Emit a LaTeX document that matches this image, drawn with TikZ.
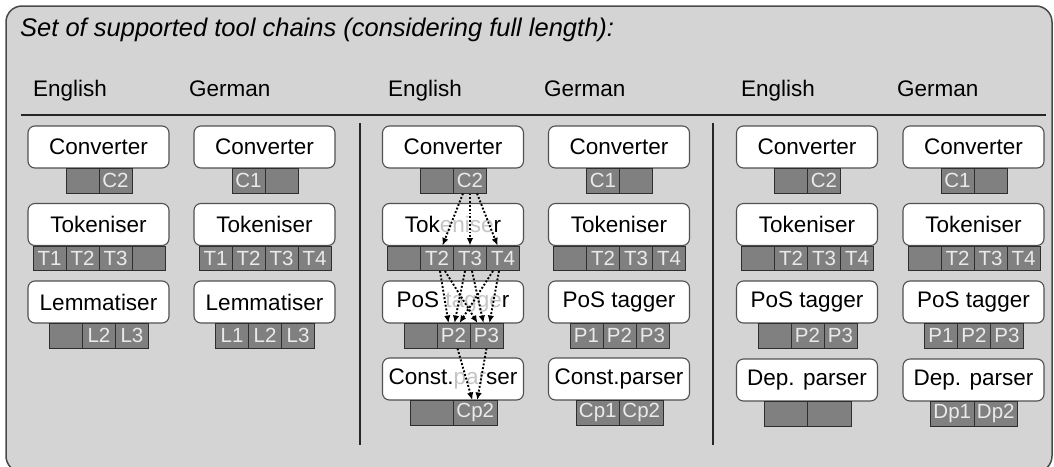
\documentclass[tikz,border=0pt]{standalone}
\usepackage{fontspec}
\setmainfont{Liberation Sans}
\usetikzlibrary{arrows.meta}
\definecolor{bgcol}{HTML}{D4D4D4}
\definecolor{framecol}{HTML}{4A4A4A}
\definecolor{cellfill}{HTML}{808080}
\definecolor{cellline}{HTML}{2E2E2E}
\definecolor{celltext}{HTML}{EAEAEA}
\definecolor{boxline}{HTML}{505050}
\definecolor{ghost}{HTML}{C4C4C4}
\newcommand\cellrow[5]{%
  \foreach \lab [count=\i] in {#5}{%
    \node[cell, minimum width=#4pt] (#1-\i) at ({#2+(\i-1)*#4}, #3) {\lab};}}
\begin{document}
\begin{tikzpicture}[x=1pt,y=-1pt,
  frame/.style={draw=framecol, line width=1.5pt, fill=bgcol, rounded corners=16pt},
  tool/.style={draw=boxline, line width=1.1pt, fill=white, rounded corners=7pt, minimum width=141pt, minimum height=42pt, inner sep=0pt, font=\fontsize{22.5}{27}\selectfont, text=black},
  cell/.style={draw=cellline, line width=1pt, fill=cellfill, minimum height=24.5pt, inner sep=0pt, anchor=north west, text=celltext, font=\fontsize{20.5}{24}\selectfont},
  lang/.style={anchor=base west, font=\fontsize{22.5}{27}\selectfont, inner sep=0pt},
  title/.style={anchor=base west, font=\fontsize{25.5}{30}\selectfont\itshape, inner sep=0pt},
  rule/.style={draw=black!85, line width=1.5pt},
  flow/.style={line width=1.9pt, dash pattern=on 1.9pt off 1.9pt, -{Latex[length=7.5pt,width=6.5pt]}, black}
]
\useasboundingbox (0,0) rectangle (1054,466);
\path[frame] (6,6) rectangle (1052,472);
\node[title] (ttl) at (20,36) {Set of supported tool chains (considering full length):};
\node[lang] (h1) at (33,96) {English};
\node[lang] (h2) at (189,96) {German};
\node[lang] (h3) at (388,96) {English};
\node[lang] (h4) at (544,96) {German};
\node[lang] (h5) at (741,96) {English};
\node[lang] (h6) at (897,96) {German};
\draw[rule] (21,115) -- (1046,115);
\draw[rule] (360,123) -- (360,445);
\draw[rule] (713,123) -- (713,445);
% column 1
\node[tool] (b1a) at (98.5,147) {Converter};
\node[tool] (b1b) at (98.5,224.5) {Tokeniser};
\node[tool] (b1c) at (98.5,302) {Lemmatiser};
\cellrow{c1c}{65.5}{168}{33}{{},C2}
\cellrow{c1t}{32.5}{245.5}{33}{T1,T2,T3,{}}
\cellrow{c1l}{49}{323}{33}{{},L2,L3}
% column 2
\node[tool] (b2a) at (264.5,147) {Converter};
\node[tool] (b2b) at (264.5,224.5) {Tokeniser};
\node[tool] (b2c) at (264.5,302) {Lemmatiser};
\cellrow{c2c}{231.5}{168}{33}{C1,{}}
\cellrow{c2t}{198.5}{245.5}{33}{T1,T2,T3,T4}
\cellrow{c2l}{215}{323}{33}{L1,L2,L3}
% column 3
\node[tool] (b3a) at (453,147) {Converter};
\node[tool] (b3b) at (453,224.5) {Tok\textcolor{ghost}{enise}r};
\node[tool] (b3c) at (453,302) {PoS \textcolor{ghost}{tagge}r};
\node[tool] (b3d) at (453,379) {Const.\textcolor{ghost}{par}ser};
\cellrow{c3c}{420}{168}{33}{{},C2}
\cellrow{c3t}{387}{245.5}{33}{{},T2,T3,T4}
\cellrow{c3p}{403.5}{323}{33}{{},P2,P3}
\cellrow{c3k}{409.5}{400}{43.5}{{},Cp2}
% column 4
\node[tool] (b4a) at (619,147) {Converter};
\node[tool] (b4b) at (619,224.5) {Tokeniser};
\node[tool] (b4c) at (619,302) {PoS tagger};
\node[tool] (b4d) at (619,379) {Const.parser};
\cellrow{c4c}{586}{168}{33}{C1,{}}
\cellrow{c4t}{553}{245.5}{33}{{},T2,T3,T4}
\cellrow{c4p}{569.5}{323}{33}{P1,P2,P3}
\cellrow{c4k}{575.5}{400}{43.5}{Cp1,Cp2}
% column 5
\node[tool] (b5a) at (807,147) {Converter};
\node[tool] (b5b) at (807,224.5) {Tokeniser};
\node[tool] (b5c) at (807,302) {PoS tagger};
\node[tool] (b5d) at (807,380) {Dep. parser};
\cellrow{c5c}{774}{168}{33}{{},C2}
\cellrow{c5t}{741}{245.5}{33}{{},T2,T3,T4}
\cellrow{c5p}{757.5}{323}{33}{{},P2,P3}
\cellrow{c5d}{763.5}{401}{43.5}{{},{}}
% column 6
\node[tool] (b6a) at (973.5,147) {Converter};
\node[tool] (b6b) at (973.5,224.5) {Tokeniser};
\node[tool] (b6c) at (973.5,302) {PoS tagger};
\node[tool] (b6d) at (973.5,380) {Dep. parser};
\cellrow{c6c}{940.5}{168}{33}{C1,{}}
\cellrow{c6t}{907.5}{245.5}{33}{{},T2,T3,T4}
\cellrow{c6p}{924}{323}{33}{P1,P2,P3}
\cellrow{c6d}{930}{401}{43.5}{Dp1,Dp2}
% flows in column 3
\draw[flow] ([xshift=-7pt]c3c-2.south) -- ([xshift=5.5pt]c3t-2.north);
\draw[flow] (c3c-2.south) -- (c3t-3.north);
\draw[flow] ([xshift=7pt]c3c-2.south) -- ([xshift=-5.5pt]c3t-4.north);
\draw[flow] ([xshift=3pt]c3t-2.south) -- ([xshift=-5pt]c3p-2.north);
\draw[flow] ([xshift=8pt]c3t-2.south) -- ([xshift=-9pt]c3p-3.north);
\draw[flow] ([xshift=-5pt]c3t-3.south) -- ([xshift=1pt]c3p-2.north);
\draw[flow] ([xshift=2pt]c3t-3.south) -- ([xshift=-3pt]c3p-3.north);
\draw[flow] ([xshift=-10pt]c3t-4.south) -- ([xshift=6pt]c3p-2.north);
\draw[flow] ([xshift=-4pt]c3t-4.south) -- ([xshift=3pt]c3p-3.north);
\draw[flow] ([xshift=4pt]c3p-2.south) -- ([xshift=-3pt]c3k-2.north);
\draw[flow] (c3p-3.south) -- ([xshift=2pt]c3k-2.north);
\end{tikzpicture}
\end{document}
